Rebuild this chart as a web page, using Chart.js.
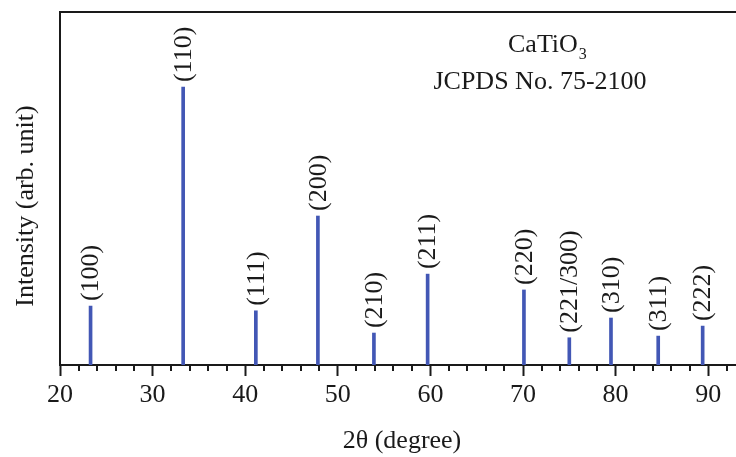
<!DOCTYPE html>
<html>
<head>
<meta charset="utf-8">
<script src="https://cdn.jsdelivr.net/npm/chart.js@4.4.1/dist/chart.umd.min.js"></script>
<style>
  body { margin: 0; background: #fff; overflow: hidden; }
  canvas { display: block; }
</style>
</head>
<body>
<canvas id="xrdChart" width="736" height="457"></canvas>
<script>
// CaTiO3 reference pattern, JCPDS 75-2100
const peakPositions = [23.3, 33.3, 41.15, 47.85, 53.9, 59.7, 70.1, 75.0, 79.5, 84.6, 89.4];
const peakIntensity = [21.2, 100, 19.5, 53.6, 11.5, 32.7, 27.0, 9.8, 16.9, 10.4, 14.0];
const peakLabels = ["(100)", "(110)", "(111)", "(200)", "(210)", "(211)", "(220)", "(221/300)", "(310)", "(311)", "(222)"];

const serif = "'Liberation Serif', 'DejaVu Serif', serif";
const textColor = "#1a1a1a";
const axisColor = "#1a1a1a";

const points = peakPositions.map((x, i) => ({ x: x, y: peakIntensity[i] }));

// draws hkl labels, frame, minor ticks, axis titles and the phase note
const decorations = {
  id: "decorations",
  afterDatasetsDraw(chart) {
    const { ctx, chartArea } = chart;
    const xs = chart.scales.x;
    ctx.save();

    // hkl labels above each line
    const meta = chart.getDatasetMeta(0);
    ctx.font = "26px " + serif;
    ctx.fillStyle = textColor;
    ctx.textAlign = "left";
    ctx.textBaseline = "middle";
    meta.data.forEach((bar, i) => {
      ctx.save();
      ctx.translate(bar.x, bar.y - 5);
      ctx.rotate(-Math.PI / 2);
      ctx.fillText(peakLabels[i], 0, 1);
      ctx.restore();
    });

    // left and top frame lines
    ctx.strokeStyle = axisColor;
    ctx.lineWidth = 2;
    ctx.beginPath();
    ctx.moveTo(chartArea.left, chartArea.bottom);
    ctx.lineTo(chartArea.left, chartArea.top);
    ctx.lineTo(chartArea.right, chartArea.top);
    ctx.stroke();

    // minor ticks every 2 degrees
    ctx.lineWidth = 2;
    ctx.beginPath();
    for (let v = 22; v <= xs.max; v += 2) {
      if (v % 10 === 0) continue;
      const px = Math.round(xs.getPixelForValue(v));
      ctx.moveTo(px, chartArea.bottom);
      ctx.lineTo(px, chartArea.bottom + 6);
    }
    ctx.stroke();

    // axis titles
    ctx.font = "26px " + serif;
    ctx.textAlign = "center";
    ctx.textBaseline = "middle";
    ctx.fillText("2θ (degree)", 402, 441);
    ctx.save();
    ctx.translate(26, 206);
    ctx.rotate(-Math.PI / 2);
    ctx.fillText("Intensity (arb. unit)", 0, 0);
    ctx.restore();

    // phase note
    ctx.textAlign = "left";
    ctx.textBaseline = "alphabetic";
    const main = "CaTiO";
    const w = ctx.measureText(main).width;
    ctx.fillText(main, 508, 52);
    ctx.font = "16px " + serif;
    ctx.fillText("3", 508 + w + 1, 59);
    ctx.font = "26px " + serif;
    ctx.textAlign = "center";
    ctx.fillText("JCPDS No. 75-2100", 540, 89);

    ctx.restore();
  }
};

new Chart(document.getElementById("xrdChart").getContext("2d"), {
  type: "bar",
  data: {
    datasets: [{
      data: points,
      backgroundColor: "#4257b5",
      barThickness: 3,
      borderWidth: 0
    }]
  },
  options: {
    responsive: false,
    animation: false,
    layout: { padding: { left: 60, top: 12, right: 0, bottom: 0 } },
    plugins: {
      legend: { display: false },
      tooltip: { enabled: false }
    },
    scales: {
      x: {
        type: "linear",
        min: 20,
        max: 93,
        offset: false,
        afterFit: (scale) => { scale.height = 92; },
        border: { display: true, color: axisColor, width: 2 },
        grid: {
          display: true,
          offset: false,
          drawOnChartArea: false,
          drawTicks: true,
          tickLength: 11,
          tickWidth: 2,
          tickColor: axisColor
        },
        ticks: {
          stepSize: 10,
          includeBounds: false,
          autoSkip: false,
          maxRotation: 0,
          padding: 4,
          color: textColor,
          font: { family: serif, size: 26 }
        }
      },
      y: {
        display: false,
        min: 0,
        max: 127
      }
    }
  },
  plugins: [decorations]
});
</script>
</body>
</html>
